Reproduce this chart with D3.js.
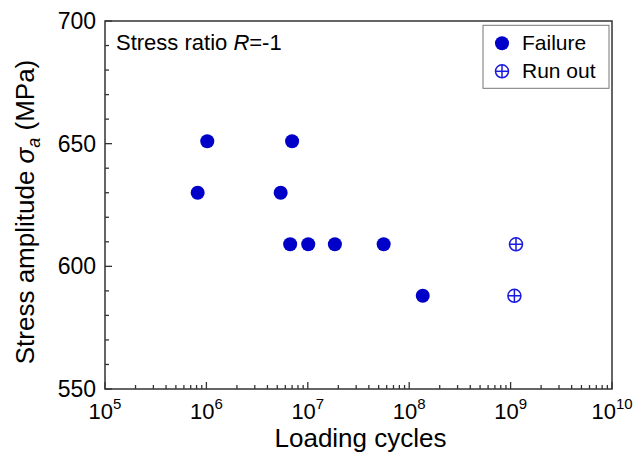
<!DOCTYPE html>
<html>
<head>
<meta charset="utf-8">
<script src="https://cdn.jsdelivr.net/npm/d3@7"></script>
<style>
  body { margin: 0; background: #fff; }
  text { font-family: "Liberation Sans", Arial, sans-serif; fill: #000; }
</style>
</head>
<body>
<script>
// failure points: cycles, stress amplitude
const failCycles = [8.2e5, 1.02e6, 5.4e6, 6.7e6, 7.0e6, 1.01e7, 1.85e7, 5.6e7, 1.36e8];
const failStress = [630, 651, 630, 609, 651, 609, 609, 609, 588];
// run-out points
const runCycles = [1.13e9, 1.09e9];
const runStress = [609, 588];

const xDecades = [5, 6, 7, 8, 9, 10];
const yTicks = [550, 600, 650, 700];

var margin = {top: 21, right: 22, bottom: 70, left: 105},
    width = 634 - margin.left - margin.right,
    height = 459 - margin.top - margin.bottom;

var svg = d3.select("body")
    .append("svg")
    .attr("width", 634)
    .attr("height", 459)
    .append("g")
    .attr("transform", "translate(" + margin.left + "," + margin.top + ")");

var x = d3.scaleLog()
    .domain([1e5, 1e10])
    .range([0, width]);

var y = d3.scaleLinear()
    .domain([550, 700])
    .range([height, 0]);

// minor ticks
var xMinor = [];
for (var e = 5; e < 10; e++) {
    for (var m = 2; m <= 9; m++) xMinor.push(m * Math.pow(10, e));
}
var yMinor = d3.range(550, 701, 10).filter(v => yTicks.indexOf(v) < 0);

var frame = svg.append("g");
frame.append("rect")
    .attr("x", 0).attr("y", 0)
    .attr("width", width).attr("height", height)
    .attr("fill", "none")
    .attr("stroke", "#333")
    .attr("stroke-width", 1.5);

frame.selectAll(".xmaj")
    .data(xDecades)
    .enter().append("line")
    .attr("x1", d => x(Math.pow(10, d))).attr("x2", d => x(Math.pow(10, d)))
    .attr("y1", height).attr("y2", height - 7)
    .attr("stroke", "#333").attr("stroke-width", 1.3);
frame.selectAll(".xmin")
    .data(xMinor)
    .enter().append("line")
    .attr("x1", d => x(d)).attr("x2", d => x(d))
    .attr("y1", height).attr("y2", height - 4)
    .attr("stroke", "#333").attr("stroke-width", 1.3);
frame.selectAll(".ymaj")
    .data(yTicks)
    .enter().append("line")
    .attr("x1", 0).attr("x2", 7)
    .attr("y1", d => y(d)).attr("y2", d => y(d))
    .attr("stroke", "#333").attr("stroke-width", 1.3);
frame.selectAll(".ymin")
    .data(yMinor)
    .enter().append("line")
    .attr("x1", 0).attr("x2", 4)
    .attr("y1", d => y(d)).attr("y2", d => y(d))
    .attr("stroke", "#333").attr("stroke-width", 1.3);

// tick labels
svg.selectAll(".ylab")
    .data(yTicks)
    .enter().append("text")
    .attr("x", -9)
    .attr("y", d => y(d) + 8)
    .attr("text-anchor", "end")
    .style("font-size", "23px")
    .text(d => d);

var xl = svg.selectAll(".xlab")
    .data(xDecades)
    .enter().append("text")
    .attr("x", d => x(Math.pow(10, d)))
    .attr("y", height + 30)
    .attr("text-anchor", "middle")
    .style("font-size", "22px");
xl.append("tspan").text("10");
xl.append("tspan")
    .attr("dy", -10)
    .style("font-size", "15px")
    .text(d => d);

// axis titles
svg.append("text")
    .attr("x", width / 2 + 2)
    .attr("y", height + 58)
    .attr("text-anchor", "middle")
    .style("font-size", "26px")
    .text("Loading cycles");

var yt = svg.append("text")
    .attr("transform", "translate(-71.5," + (height / 2 + 7) + ") rotate(-90)")
    .attr("text-anchor", "middle")
    .style("font-size", "26px");
yt.append("tspan").text("Stress amplitude ");
yt.append("tspan").style("font-style", "italic").text("σ");
yt.append("tspan").attr("dy", 6).style("font-style", "italic").style("font-size", "18px").text("a");
yt.append("tspan").attr("dy", -6).text(" (MPa)");

// annotation
var ann = svg.append("text")
    .attr("x", 11)
    .attr("y", 29)
    .style("font-size", "22px");
ann.append("tspan").text("Stress ratio ");
ann.append("tspan").style("font-style", "italic").text("R");
ann.append("tspan").text("=-1");

var blue = "#0000c8";
var runBlue = "#1a1ae0";

// failure points
svg.selectAll(".fail")
    .data(failCycles)
    .enter().append("circle")
    .attr("cx", d => x(d))
    .attr("cy", (d, i) => y(failStress[i]))
    .attr("r", 7)
    .attr("fill", blue);

// run-out points
function runMark(g, r) {
    g.append("circle").attr("r", r)
        .attr("fill", "none").attr("stroke", runBlue).attr("stroke-width", 1.5);
    g.append("line").attr("x1", -r).attr("x2", r)
        .attr("stroke", runBlue).attr("stroke-width", 1.5);
    g.append("line").attr("y1", -r).attr("y2", r)
        .attr("stroke", runBlue).attr("stroke-width", 1.5);
}
svg.selectAll(".run")
    .data(runCycles)
    .enter().append("g")
    .attr("transform", (d, i) => "translate(" + x(d) + "," + y(runStress[i]) + ")")
    .each(function() { runMark(d3.select(this), 6.5); });

// legend
var lg = svg.append("g").attr("transform", "translate(" + (width - 129) + ",4.3)");
lg.append("rect")
    .attr("width", 126).attr("height", 63)
    .attr("fill", "#fff")
    .attr("stroke", "#777").attr("stroke-width", 1);
lg.append("circle").attr("cx", 19).attr("cy", 18).attr("r", 7).attr("fill", blue);
lg.append("text").attr("x", 39).attr("y", 25).style("font-size", "21px").text("Failure");
var rm = lg.append("g").attr("transform", "translate(19,46)");
runMark(rm, 6.5);
lg.append("text").attr("x", 39).attr("y", 53).style("font-size", "21px").text("Run out");
</script>
</body>
</html>
